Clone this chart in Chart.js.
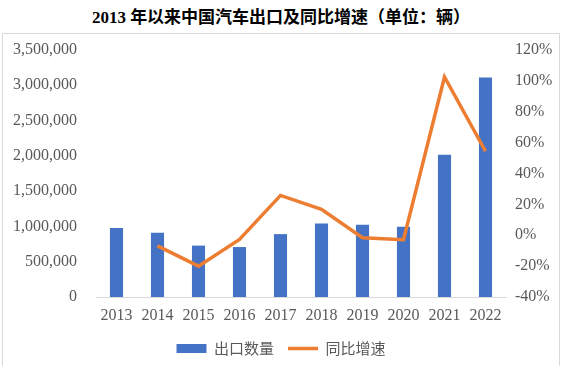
<!DOCTYPE html>
<html>
<head>
<meta charset="utf-8">
<script src="https://cdn.jsdelivr.net/npm/chart.js@4.4.0/dist/chart.umd.min.js"></script>
<style>
  html, body { margin: 0; padding: 0; background: #fff; }
  body { width: 562px; height: 366px; position: relative; overflow: hidden; }
  #title {
    position: absolute; left: 0; top: 3px; width: 562px; text-align: center;
    font: bold 17px "Liberation Serif", "Noto Sans CJK SC", serif; color: #000;
  }
  #frame {
    position: absolute; left: 2px; top: 33px; width: 556px; height: 340px;
    border: 1px solid #d9d9d9;
  }
  #wrap { position: absolute; left: 0; top: 0; width: 556px; height: 332px; }
</style>
</head>
<body>
<div id="title">2013 年以来中国汽车出口及同比增速（单位：辆）</div>
<div id="frame"><div id="wrap"><canvas id="chart"></canvas></div></div>
<script>
// data
const years = ['2013', '2014', '2015', '2016', '2017', '2018', '2019', '2020', '2021', '2022'];
const exports = [977000, 910000, 728000, 708000, 891000, 1041000, 1024000, 995000, 2015000, 3111000];
const growth = [null, -6.9, -20.0, -2.7, 25.8, 16.8, -1.6, -2.9, 102.5, 54.4];
const leftTicks = [0, 3500000, 500000];   // min, max, step
const rightTicks = [-40, 120, 20];

const gray = '#595959';
Chart.defaults.font.family = 'Liberation Serif, Times New Roman, serif';
Chart.defaults.font.size = 16;
Chart.defaults.color = gray;

// keep the plot edges where the reference has them
const noPad = s => { s.paddingTop = 0; s.paddingBottom = 0; };

const ctx = document.getElementById('chart').getContext('2d');
new Chart(ctx, {
  data: {
    labels: years,
    datasets: [
      {
        type: 'line',
        label: '同比增速',
        data: growth,
        yAxisID: 'y2',
        borderColor: '#ED7D31',
        borderWidth: 3.5,
        pointRadius: 0,
        tension: 0,
        order: 0
      },
      {
        type: 'bar',
        label: '出口数量',
        data: exports,
        yAxisID: 'y',
        backgroundColor: '#4472C4',
        barPercentage: 0.64,
        categoryPercentage: 0.5,
        order: 1
      }
    ]
  },
  options: {
    responsive: true,
    maintainAspectRatio: false,
    animation: false,
    layout: { padding: { top: 16, bottom: 0 } },
    plugins: {
      legend: {
        position: 'bottom',
        labels: {
          color: gray,
          font: { family: '"Noto Sans CJK SC", sans-serif', size: 15 },
          usePointStyle: true,
          pointStyleWidth: 30,
          boxHeight: 9,
          padding: 14,
          generateLabels: chart => chart.data.datasets.map((ds, i) => ({
            text: ds.label,
            datasetIndex: i,
            fillStyle: ds.type === 'bar' ? ds.backgroundColor : ds.borderColor,
            strokeStyle: ds.type === 'bar' ? ds.backgroundColor : ds.borderColor,
            lineWidth: ds.type === 'bar' ? 0 : 3.5,
            pointStyle: ds.type === 'bar' ? 'rect' : 'line',
            fontColor: gray,
            hidden: false
          })).reverse()
        }
      },
      tooltip: { enabled: false }
    },
    scales: {
      x: {
        grid: { display: false, drawTicks: false },
        border: { display: true, color: '#d9d9d9', width: 1 },
        ticks: { padding: 9, maxRotation: 0 },
        afterFit: s => { s.height = 30; }
      },
      y: {
        position: 'left',
        min: leftTicks[0], max: leftTicks[1],
        grid: { display: false, drawTicks: false },
        border: { display: false },
        ticks: {
          stepSize: leftTicks[2], padding: 19,
          callback: v => v.toLocaleString('en-US')
        },
        afterFit: s => { s.width = 93; noPad(s); }
      },
      y2: {
        position: 'right',
        min: rightTicks[0], max: rightTicks[1],
        grid: { display: false, drawTicks: false },
        border: { display: false },
        ticks: {
          stepSize: rightTicks[2], padding: 9,
          callback: v => v + '%'
        },
        afterFit: s => { s.width = 53; noPad(s); }
      }
    }
  }
});
</script>
</body>
</html>
